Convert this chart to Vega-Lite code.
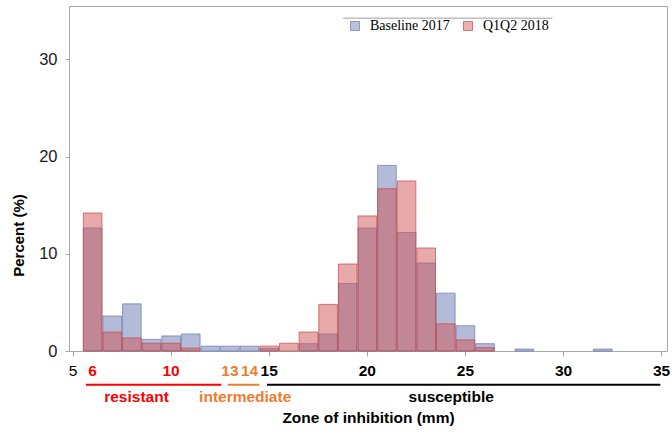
{
  "$schema": "https://vega.github.io/schema/vega-lite/v6.json",
  "width": 598,
  "height": 345,
  "autosize": {"type": "none"},
  "padding": {"left": 69, "top": 6, "right": 5, "bottom": 91},
  "config": {"view": {"stroke": "#a8a8a8"}, "font": "Liberation Sans"},
  "datasets": {
    "hist": [
      {"series": "Baseline 2017", "zone": 6, "percent": 12.66},
      {"series": "Baseline 2017", "zone": 7, "percent": 3.6},
      {"series": "Baseline 2017", "zone": 8, "percent": 4.85},
      {"series": "Baseline 2017", "zone": 9, "percent": 1.2},
      {"series": "Baseline 2017", "zone": 10, "percent": 1.55},
      {"series": "Baseline 2017", "zone": 11, "percent": 1.75},
      {"series": "Baseline 2017", "zone": 12, "percent": 0.5},
      {"series": "Baseline 2017", "zone": 13, "percent": 0.5},
      {"series": "Baseline 2017", "zone": 14, "percent": 0.5},
      {"series": "Baseline 2017", "zone": 15, "percent": 0.25},
      {"series": "Baseline 2017", "zone": 17, "percent": 0.75},
      {"series": "Baseline 2017", "zone": 18, "percent": 1.75},
      {"series": "Baseline 2017", "zone": 19, "percent": 6.95},
      {"series": "Baseline 2017", "zone": 20, "percent": 12.65},
      {"series": "Baseline 2017", "zone": 21, "percent": 19.1},
      {"series": "Baseline 2017", "zone": 22, "percent": 12.2},
      {"series": "Baseline 2017", "zone": 23, "percent": 9.05},
      {"series": "Baseline 2017", "zone": 24, "percent": 5.95},
      {"series": "Baseline 2017", "zone": 25, "percent": 2.6},
      {"series": "Baseline 2017", "zone": 26, "percent": 0.75},
      {"series": "Baseline 2017", "zone": 28, "percent": 0.2},
      {"series": "Baseline 2017", "zone": 32, "percent": 0.2},
      {"series": "Q1Q2 2018", "zone": 6, "percent": 14.2},
      {"series": "Q1Q2 2018", "zone": 7, "percent": 1.95},
      {"series": "Q1Q2 2018", "zone": 8, "percent": 1.35},
      {"series": "Q1Q2 2018", "zone": 9, "percent": 0.8},
      {"series": "Q1Q2 2018", "zone": 10, "percent": 0.8},
      {"series": "Q1Q2 2018", "zone": 11, "percent": 0.3},
      {"series": "Q1Q2 2018", "zone": 15, "percent": 0.5},
      {"series": "Q1Q2 2018", "zone": 16, "percent": 0.8},
      {"series": "Q1Q2 2018", "zone": 17, "percent": 1.95},
      {"series": "Q1Q2 2018", "zone": 18, "percent": 4.8},
      {"series": "Q1Q2 2018", "zone": 19, "percent": 8.95},
      {"series": "Q1Q2 2018", "zone": 20, "percent": 13.9},
      {"series": "Q1Q2 2018", "zone": 21, "percent": 16.7},
      {"series": "Q1Q2 2018", "zone": 22, "percent": 17.5},
      {"series": "Q1Q2 2018", "zone": 23, "percent": 10.6},
      {"series": "Q1Q2 2018", "zone": 24, "percent": 2.8},
      {"series": "Q1Q2 2018", "zone": 25, "percent": 1.15},
      {"series": "Q1Q2 2018", "zone": 26, "percent": 0.35}
    ],
    "cats": [
      {"category": "resistant", "from": 5.68, "to": 12.59, "label_at": 8.26},
      {"category": "intermediate", "from": 12.91, "to": 14.52, "label_at": 13.8},
      {"category": "susceptible", "from": 14.91, "to": 34.96, "label_at": 24.3}
    ]
  },
  "layer": [
    {
      "data": {"name": "hist"},
      "transform": [{"filter": "datum.series === 'Baseline 2017'"}],
      "mark": {"type": "bar", "fillOpacity": 0.5, "strokeOpacity": 0.7, "strokeWidth": 1},
      "encoding": {
        "x": {
          "field": "zone", "type": "quantitative",
          "bin": {"step": 1, "anchor": 0.5, "extent": [5.5, 33.5], "nice": false},
          "scale": {"domain": [4.82, 35.3], "nice": false, "zero": false},
          "axis": {
            "values": [5, 6, 10, 13, 14, 15, 20, 25, 30, 35],
            "format": "d",
            "domain": false, "grid": false,
            "tickColor": "#a8a8a8", "tickSize": 5,
            "tickOpacity": {"condition": {"test": "datum.value % 5 !== 0", "value": 0}, "value": 1},
            "labelFont": "Liberation Sans", "labelFontSize": 15.5,
            "labelFontWeight": {"condition": {"test": "datum.value === 5", "value": "normal"}, "value": "bold"},
            "labelColor": {"condition": [
              {"test": "datum.value >= 13 && datum.value <= 14", "value": "#ED7D31"},
              {"test": "datum.value >= 6 && datum.value <= 12", "value": "#FF0000"}
            ], "value": "#000000"},
            "labelPadding": 7, "labelOverlap": false, "labelFlush": false,
            "title": "Zone of inhibition (mm)",
            "titleFont": "Liberation Sans", "titleFontSize": 15.5, "titleFontWeight": "bold",
            "titleColor": "#000000", "titlePadding": 32
          }
        },
        "y": {
          "field": "percent", "type": "quantitative",
          "scale": {"domain": [0, 35.5], "nice": false, "zero": false},
          "axis": {
            "values": [0, 10, 20, 30], "domain": false, "grid": false,
            "tickColor": "#a8a8a8", "tickSize": 4,
            "labelFont": "Liberation Sans", "labelFontSize": 16.5, "labelColor": "#1a1a1a", "labelPadding": 8,
            "title": "Percent (%)", "titleFont": "Liberation Sans", "titleFontSize": 15,
            "titleFontWeight": "bold", "titleColor": "#000000", "titlePadding": 12,
            "titleY": 229
          }
        },
        "fill": {
          "field": "series", "type": "nominal",
          "scale": {"domain": ["Baseline 2017", "Q1Q2 2018"], "range": ["#6777b1", "#d15355"]},
          "legend": {
            "orient": "none", "legendX": 279, "legendY": 13, "direction": "horizontal", "title": null,
            "symbolType": "square", "symbolSize": 81, "symbolStrokeWidth": 1,
            "labelFont": "Liberation Serif", "labelFontSize": 14, "labelColor": "#000000",
            "labelOffset": 8, "columnPadding": 11,
            "encode": {"symbols": {"update": {"fillOpacity": {"value": 0.45}, "strokeOpacity": {"value": 0.7}}}}
          }
        },
        "stroke": {
          "field": "series", "type": "nominal",
          "scale": {"domain": ["Baseline 2017", "Q1Q2 2018"], "range": ["#6777b1", "#c44a4c"]},
          "legend": {
            "orient": "none", "legendX": 279, "legendY": 13, "direction": "horizontal", "title": null,
            "symbolType": "square", "symbolSize": 81, "symbolStrokeWidth": 1,
            "labelFont": "Liberation Serif", "labelFontSize": 14, "labelColor": "#000000",
            "labelOffset": 8, "columnPadding": 11,
            "encode": {"symbols": {"update": {"fillOpacity": {"value": 0.45}, "strokeOpacity": {"value": 0.7}}}}
          }
        }
      }
    },
    {
      "data": {"name": "hist"},
      "transform": [{"filter": "datum.series === 'Q1Q2 2018'"}],
      "mark": {"type": "bar", "fillOpacity": 0.5, "strokeOpacity": 0.7, "strokeWidth": 1},
      "encoding": {
        "x": {"field": "zone", "type": "quantitative", "bin": {"step": 1, "anchor": 0.5, "extent": [5.5, 33.5], "nice": false},
              "scale": {"domain": [4.82, 35.3], "nice": false, "zero": false}},
        "y": {"field": "percent", "type": "quantitative", "scale": {"domain": [0, 35.5], "nice": false, "zero": false}},
        "fill": {"field": "series", "type": "nominal"},
        "stroke": {"field": "series", "type": "nominal"}
      }
    },
    {
      "data": {"name": "cats"},
      "mark": {"type": "rule", "strokeWidth": 2},
      "encoding": {
        "x": {"field": "from", "type": "quantitative", "scale": {"domain": [4.82, 35.3], "nice": false, "zero": false}},
        "x2": {"field": "to"},
        "y": {"datum": -3.46, "type": "quantitative", "scale": {"domain": [0, 35.5], "nice": false, "zero": false}},
        "color": {
          "field": "category", "type": "nominal",
          "scale": {"domain": ["resistant", "intermediate", "susceptible"], "range": ["#FF0000", "#ED7D31", "#000000"]},
          "legend": null
        }
      }
    },
    {
      "data": {"name": "cats"},
      "mark": {"type": "text", "font": "Liberation Sans", "fontSize": 15.5, "fontWeight": "bold", "baseline": "middle", "align": "center"},
      "encoding": {
        "x": {"field": "label_at", "type": "quantitative", "scale": {"domain": [4.82, 35.3], "nice": false, "zero": false}},
        "y": {"datum": -4.74, "type": "quantitative", "scale": {"domain": [0, 35.5], "nice": false, "zero": false}},
        "text": {"field": "category"},
        "color": {"field": "category", "type": "nominal", "legend": null}
      }
    },
    {
      "data": {"values": [{}]},
      "mark": {"type": "rule", "color": "#a0a0a0", "strokeWidth": 1},
      "encoding": {
        "x": {"datum": 18.8, "type": "quantitative", "scale": {"domain": [4.82, 35.3], "nice": false, "zero": false}},
        "x2": {"datum": 29.46},
        "y": {"datum": 34.25, "type": "quantitative", "scale": {"domain": [0, 35.5], "nice": false, "zero": false}}
      }
    }
  ]
}
